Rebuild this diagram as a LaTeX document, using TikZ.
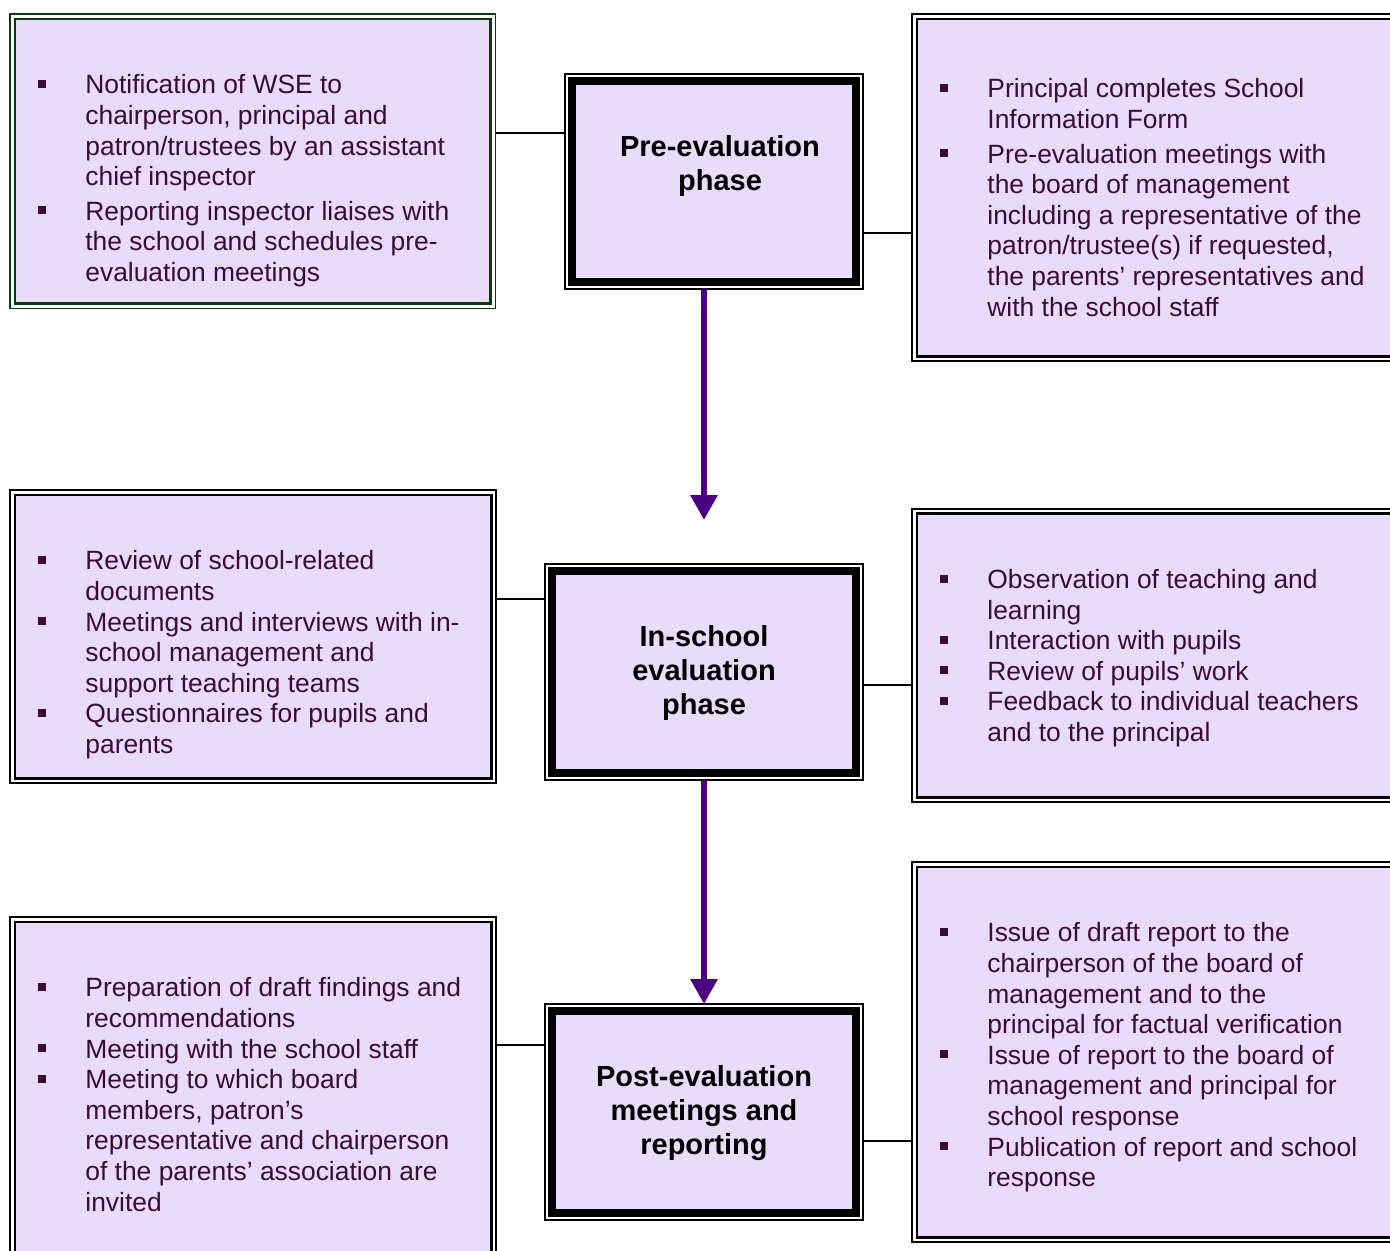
\documentclass[tikz,border=0pt]{standalone}
\usepackage{fontspec}
\setmainfont{Liberation Sans}
\usetikzlibrary{arrows.meta}
\definecolor{lav}{RGB}{232,220,250}
\definecolor{ink}{RGB}{58,10,58}
\definecolor{flow}{RGB}{75,0,130}
\definecolor{leaf}{RGB}{10,60,10}
\newcommand\sq{\rule[3pt]{4pt}{4pt}}
\tikzset{
  sidebox/.style={draw=#1, line width=0.85pt, fill=white, inner sep=0pt, outer sep=0pt,
    path picture={\draw[#1, line width=1.3pt, fill=lav]
      ([shift={(2.4pt,-2.4pt)}]path picture bounding box.north west) rectangle
      ([shift={(-2.4pt,2.4pt)}]path picture bounding box.south east);}},
  sidebox/.default=black,
  phasebox/.style={draw, line width=1pt, fill=white, inner sep=0pt, outer sep=0pt,
    minimum width=159pt, minimum height=108pt,
    path picture={\draw[line width=4.1pt, fill=lav]
      ([shift={(3.6pt,-3.6pt)}]path picture bounding box.north west) rectangle
      ([shift={(-3.6pt,3.6pt)}]path picture bounding box.south east);}},
  items/.style={anchor=north west, inner sep=0pt, text=ink,
    font=\fontsize{13.2pt}{15.3pt}\selectfont},
  phasetext/.style={anchor=north, inner sep=0pt, align=center,
    font=\bfseries\fontsize{14.5pt}{17pt}\selectfont},
  link/.style={line width=0.75pt},
  flowarrow/.style={draw=flow, line width=3pt, -{Triangle[width=13pt,length=12.5pt]}}
}
\begin{document}
\begin{tikzpicture}[x=0.5pt, y=-0.5pt]
\clip (0,0) rectangle (1390,1250);

\node[sidebox=leaf, minimum width=242.75pt, minimum height=147.25pt] (tl) at (252.75,161.25) {};
\node[sidebox, minimum width=244pt, minimum height=173.5pt] (tr) at (1156,187.5) {};
\node[phasebox, minimum width=149pt, minimum height=107.5pt] (pre) at (714,181.5) {};

\node[sidebox, minimum width=243pt, minimum height=146.5pt] (ml) at (253,636.5) {};
\node[sidebox, minimum width=244pt, minimum height=146.75pt] (mr) at (1156,655.5) {};
\node[phasebox] (insch) at (704,672) {};

\node[sidebox, minimum width=243pt, minimum height=174pt] (bl) at (253,1091) {};
\node[sidebox, minimum width=244pt, minimum height=190pt] (br) at (1156,1052) {};
\node[phasebox] (post) at (704,1112) {};

\node[phasetext] (pretxt) at ([xshift=3pt,yshift=-29pt]pre.north)
  {\rule{0pt}{12pt}Pre-evaluation\\phase};
\node[phasetext] (inschtxt) at ([yshift=-29pt]insch.north)
  {\rule{0pt}{12pt}In-school\\evaluation\\phase};
\node[phasetext] (posttxt) at ([yshift=-29pt]post.north)
  {\rule{0pt}{12pt}Post-evaluation\\meetings and\\reporting};

\node[items] (tltxt) at ([xshift=14pt,yshift=-29pt]tl.north west)
  {\begin{tabular}{@{}p{23.5pt}@{}l@{}}
   \sq & Notification of WSE to\\
       & chairperson, principal and\\
       & patron/trustees by an assistant\\
       & chief inspector\\[2pt]
   \sq & Reporting inspector liaises with\\
       & the school and schedules pre-\\
       & evaluation meetings
   \end{tabular}};
\node[items] (trtxt) at ([xshift=14pt,yshift=-31pt]tr.north west)
  {\begin{tabular}{@{}p{23.5pt}@{}l@{}}
   \sq & Principal completes School\\
       & Information Form\\[2pt]
   \sq & Pre-evaluation meetings with\\
       & the board of management\\
       & including a representative of the\\
       & patron/trustee(s) if requested,\\
       & the parents’ representatives and\\
       & with the school staff
   \end{tabular}};
\node[items] (mltxt) at ([xshift=14pt,yshift=-29pt]ml.north west)
  {\begin{tabular}{@{}p{23.5pt}@{}l@{}}
   \sq & Review of school-related\\
       & documents\\
   \sq & Meetings and interviews with in-\\
       & school management and\\
       & support teaching teams\\
   \sq & Questionnaires for pupils and\\
       & parents
   \end{tabular}};
\node[items] (mrtxt) at ([xshift=14pt,yshift=-29pt]mr.north west)
  {\begin{tabular}{@{}p{23.5pt}@{}l@{}}
   \sq & Observation of teaching and\\
       & learning\\
   \sq & Interaction with pupils\\
   \sq & Review of pupils’ work\\
   \sq & Feedback to individual teachers\\
       & and to the principal
   \end{tabular}};
\node[items] (bltxt) at ([xshift=14pt,yshift=-29pt]bl.north west)
  {\begin{tabular}{@{}p{23.5pt}@{}l@{}}
   \sq & Preparation of draft findings and\\
       & recommendations\\
   \sq & Meeting with the school staff\\
   \sq & Meeting to which board\\
       & members, patron’s\\
       & representative and chairperson\\
       & of the parents’ association are\\
       & invited
   \end{tabular}};
\node[items] (brtxt) at ([xshift=14pt,yshift=-29pt]br.north west)
  {\begin{tabular}{@{}p{23.5pt}@{}l@{}}
   \sq & Issue of draft report to the\\
       & chairperson of the board of\\
       & management and to the\\
       & principal for factual verification\\
   \sq & Issue of report to the board of\\
       & management and principal for\\
       & school response\\
   \sq & Publication of report and school\\
       & response
   \end{tabular}};

\draw[link] ([yshift=24.25pt]pre.west) -- ([yshift=24.25pt]pre.west -| tl.east);
\draw[link] ([yshift=-25.75pt]pre.east) -- ([yshift=-25.75pt]pre.east -| tr.west);
\draw[link] ([yshift=36.5pt]insch.west) -- ([yshift=36.5pt]insch.west -| ml.east);
\draw[link] ([yshift=-6.5pt]insch.east) -- ([yshift=-6.5pt]insch.east -| mr.west);
\draw[link] ([yshift=33.5pt]post.west) -- ([yshift=33.5pt]post.west -| bl.east);
\draw[link] ([yshift=-14.5pt]post.east) -- ([yshift=-14.5pt]post.east -| br.west);

\coordinate (stop) at (704,520);
\draw[flowarrow] (insch.north |- pre.south) -- (stop);
\draw[flowarrow] (insch.south) -- (post.north);
\end{tikzpicture}
\end{document}
